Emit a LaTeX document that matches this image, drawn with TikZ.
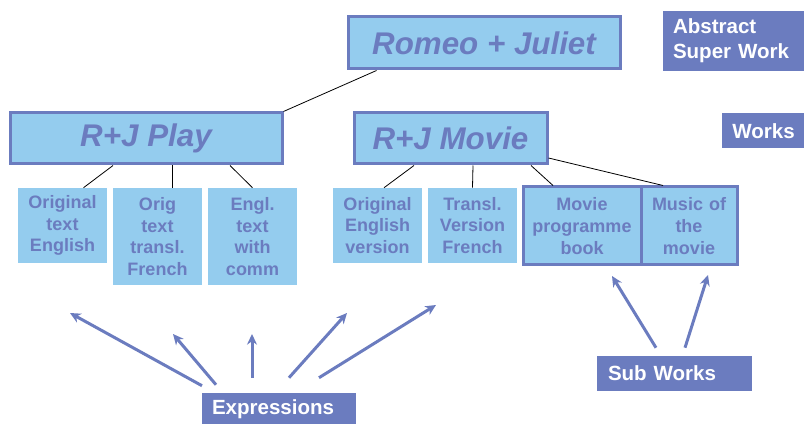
\documentclass[tikz,border=0pt]{standalone}
\usepackage{fontspec}
\setmainfont{Liberation Sans}
\usetikzlibrary{calc, arrows.meta}
\definecolor{slate}{RGB}{107,124,191}
\definecolor{sky}{RGB}{148,204,238}
\tikzstyle{work} = [rectangle, draw=slate, line width=2.25pt, fill=sky, text=slate, font=\bfseries\itshape\fontsize{23.5}{28}\selectfont, minimum height=38.25pt]
\tikzstyle{leaf} = [rectangle, fill=sky, text=slate, font=\bfseries\fontsize{13.5}{16.3}\selectfont, minimum width=66.75pt, text width=64pt, align=center, inner sep=0pt]
\tikzstyle{subwork} = [leaf, draw=slate, line width=2.25pt, minimum height=58.5pt]
\tikzstyle{tag} = [rectangle, fill=slate, text=white, font=\bfseries\fontsize{15.4}{18.75}\selectfont, align=left, inner xsep=7.5pt, inner ysep=0pt]
\tikzstyle{link} = [draw=black, line width=0.6pt]
\tikzstyle{pointer} = [draw=slate, line width=2.25pt, -{Stealth[length=8pt,width=7.5pt]}]

\begin{document}
\begin{tikzpicture}[x=0.75pt, y=-0.75pt]
               \useasboundingbox (0,0) rectangle (804,424);
               % works
               \node [work, minimum width=204pt, minimum height=39pt] at (484,43) (romeo) {Romeo + Juliet};
               \node [work, minimum width=204pt] at (146,138.5) (play) {R+J Play};
               \node [work, minimum width=144.75pt] at (450.5,138.5) (movie) {R+J Movie};
               % expressions
               \node [leaf, minimum height=56.25pt] at (62.5,225.5) (ote) {Original\\text\\English};
               \node [leaf, minimum height=72.75pt] at (157.5,236.5) (otf) {Orig\\text\\transl.\\French};
               \node [leaf, minimum height=72.75pt] at (252.5,236.5) (etc) {Engl.\\text\\with\\comm};
               \node [leaf, minimum height=56.25pt] at (377.5,225.5) (oev) {Original\\English\\version};
               \node [leaf, minimum height=56.25pt] at (472.5,225.5) (tvf) {Transl.\\Version\\French};
               \node [subwork, minimum width=88.5pt, text width=80pt] at (582,226) (mpb) {Movie\\programme\\book};
               \node [subwork, minimum width=72pt, text width=66pt] at (689,226) (mom) {Music of\\the\\movie};
               % labels
               \node [tag, minimum width=105.75pt, minimum height=45pt, text width=90.75pt] at (733.5,41) (abstract) {Abstract\\Super Work};
               \node [tag, minimum width=61.5pt, minimum height=26.25pt, text width=47.5pt] at (764,131) (works) {Works};
               \node [tag, minimum width=115.5pt, minimum height=24pt, text width=100.5pt] at (279,409) (expressions) {Expressions};
               \node [tag, minimum width=116.25pt, minimum height=26.25pt, text width=99.75pt, inner xsep=8.25pt] at (674.5,373.5) (sub) {Sub Works};
               % free ends of the arrows
               \coordinate (e1) at (70,313);
               \coordinate (e2) at (173,334);
               \coordinate (e3) at (252,334);
               \coordinate (e4) at (347,313);
               \coordinate (e5) at (436,305);
               \coordinate (s1) at (612,276);
               \coordinate (s2) at (708,275);
               % tree
               \draw [link] ($(romeo.south west)+(30,0)$) -- (play.north east);
               \draw [link] ($(romeo.south)+(3,0)$) -- ($(romeo.south)+(3,0)$ |- movie.north);
               \draw [link] ($(play.south)+(-33,0)$) -- ($(ote.north)+(21,0)$);
               \draw [link] ($(play.south)+(26,0)$) -- ($(otf.north)+(14.5,0)$);
               \draw [link] ($(play.south)+(84,0)$) -- (etc.north);
               \draw [link] ($(movie.south)+(-36.5,0)$) -- ($(oev.north)+(6.5,0)$);
               \draw [link] ($(movie.south)+(22.5,0)$) -- (tvf.north);
               \draw [link] ($(movie.south)+(80.5,0)$) -- ($(mpb.north)+(-29,0)$);
               \draw [link] ($(movie.east)+(0,19.5)$) -- ($(mom.north)+(-26,0)$);
               % arrows
               \draw [pointer] ($(expressions.north)+(-77,-7)$) -- (e1);
               \draw [pointer] ($(expressions.north)+(-63,-8)$) -- (e2);
               \draw [pointer] ($(expressions.north)+(-27,-15)$) -- (e3);
               \draw [pointer] ($(expressions.north)+(10,-15)$) -- (e4);
               \draw [pointer] ($(expressions.north)+(40,-15)$) -- (e5);
               \draw [pointer] ($(sub.north)+(-18.5,-8)$) -- (s1);
               \draw [pointer] ($(sub.north)+(10.5,-8)$) -- (s2);
\end{tikzpicture}
\end{document}
